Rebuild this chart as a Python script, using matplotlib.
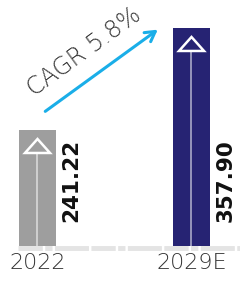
import matplotlib
matplotlib.use("Agg")
import matplotlib.pyplot as plt
from matplotlib.patches import Polygon

categories = ["2022", "2029E"]
values = [241.22, 357.90]
value_labels = ["241.22", "357.90"]
bar_colors = ["#9e9e9e", "#262373"]
cagr_label = "CAGR 5.8%"

W, H = 240, 283
fig = plt.figure(figsize=(W / 100, H / 100), dpi=100)
base_px = 37  # baseline pixel height from bottom
ax = fig.add_axes([0, base_px / H, 1, 1 - base_px / H])
ymin, ymax = 108.5, 389.9
ax.set_ylim(ymin, ymax)
ax.set_xlim(-0.2435, 1.315)
ax.axis("off")

px_y = (H - base_px) / (ymax - ymin)   # pixels per data unit (y)
px_x = 240 / (1.315 + 0.2435)          # pixels per data unit (x)

x = list(range(len(categories)))
ax.bar(x, [v - ymin for v in values], bottom=ymin, width=0.24,
       color=bar_colors, zorder=2)

# baseline
ax.plot([-0.125, 1.315], [ymin - 1.5 / px_y] * 2, color="#e4e4e4", lw=3.5,
        linestyle=(0, (5, 0.5, 1.5, 0.5, 7, 0.5)), solid_capstyle="butt",
        dash_capstyle="butt", zorder=1, clip_on=False)

for xi, v, c, lab in zip(x, values, bar_colors, value_labels):
    apex = v - 9 / px_y
    base = v - 23 / px_y
    hw = 12.5 / px_x
    ax.plot([xi, xi], [ymin, base], color="white", lw=1.2, alpha=0.6, zorder=3)
    tri = Polygon([[xi - hw, base], [xi + hw, base], [xi, apex]], closed=True,
                  facecolor=c, edgecolor="white", lw=1.8, zorder=4)
    ax.add_patch(tri)
    ax.text(xi + 34 / px_x, ymin + 24 / px_y, lab, rotation=90, ha="center",
            va="bottom", fontsize=15.5, fontweight="bold",
            family="DejaVu Sans Condensed", color="#111111", zorder=5)

for xi, cat in zip(x, categories):
    fig.text((37.5 + xi * 154) / W, 10 / H, cat, ha="center", va="bottom",
             fontsize=16, fontweight="light", color="#333333")

ax.annotate("", xy=(160, 255), xycoords="figure pixels",
            xytext=(43, 170), textcoords="figure pixels",
            arrowprops=dict(arrowstyle="->,head_length=0.7,head_width=0.4",
                        color="#1aaee8", lw=2.2))
fig.text(84 / W, 231 / H, cagr_label, rotation=36, rotation_mode="anchor",
         ha="center", va="center", fontsize=17, fontweight="light",
         color="#333333")

fig.savefig("out.png", dpi=100)
